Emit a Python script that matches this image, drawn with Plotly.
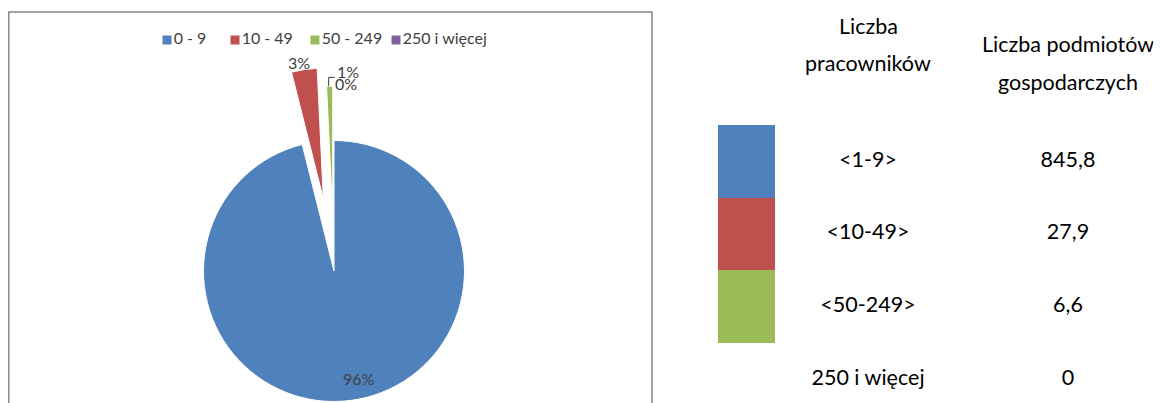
import math
import plotly.graph_objects as go

# ---------------- data ----------------
CATEGORIES = ["0 - 9", "10 - 49", "50 - 249", "250 i więcej"]
VALUES = [845.8, 27.9, 6.6, 0]
TABLE_LABELS = ["<1-9>", "<10-49>", "<50-249>", "250 i więcej"]
TABLE_VALUES = ["845,8", "27,9", "6,6", "0"]
HEADER_COL1 = ["Liczba", "pracowników"]
HEADER_COL2 = ["Liczba podmiotów", "gospodarczych"]

# ---------------- styles / layout (reference pixel units) ----------------
COLORS = ["#4F81BD", "#C0504D", "#9BBB59", "#8064A2"]
PULLS = [0, 0.56, 0.415, 0]
CLEAR = "rgba(0,0,0,0)"
W, H = 1161, 403
OFF = 8                      # page body margin
FW, FH = W - OFF, H - OFF    # figure size
PIE_CX, PIE_CY, PIE_R = 334, 271, 130.5
ROW0_PX, ROW_STEP_PX = 161.4, 72.6
SWATCH_X, SWATCH_W = 746.5, 57
LABEL_X, VALUE_X = 868, 1068
FONT = "Lato, 'Open Sans', sans-serif"
CHART_TXT = "#404040"
TABLE_SIZE = 21.5
LABEL_SIZE = 16
LEGEND_X = [167, 235, 315, 396]
LEGEND_Y = 40
# percent label centres, reference pixels
PCT_POS = [(359, 378), (299, 62), (348, 72), (345.5, 83)]


def px(x):
    return (x - OFF) / FW


def py(y):
    return 1 - (y - OFF) / FH


def pie_domain(cx, cy, r):
    return dict(x=[px(cx - r), px(cx + r)], y=[py(cy + r), py(cy - r)])


def px_to_row(yy):
    return (yy - ROW0_PX) / ROW_STEP_PX


total = sum(VALUES)
pct = [f"{round(v / total * 100)}%" for v in VALUES]

fig = go.Figure()

# each slice drawn as its own pie layer, offset along its bisector (explode)
cum = 0.0
green_top = None
for k, v in enumerate(VALUES):
    mid = (cum + v / 2) / total * 2 * math.pi
    cum += v
    if v <= 0:
        continue
    off = PULLS[k] * PIE_R
    cx = PIE_CX + math.sin(mid) * off
    cy = PIE_CY - math.cos(mid) * off
    cols = [COLORS[i] if i == k else CLEAR for i in range(len(VALUES))]
    lines = ["white" if i == k else CLEAR for i in range(len(VALUES))]
    fig.add_trace(go.Pie(
        labels=CATEGORIES, values=VALUES, sort=False, direction="clockwise",
        marker=dict(colors=cols, line=dict(color=lines, width=1)),
        textinfo="none", domain=pie_domain(cx, cy, PIE_R),
        showlegend=False, hoverinfo="skip",
    ))
    if k == 2:
        green_top = (cx + math.sin(mid) * PIE_R, cy - math.cos(mid) * PIE_R)

annotations = []
for (lx, ly), t in zip(PCT_POS, pct):
    annotations.append(dict(x=px(lx), y=py(ly), xref="paper", yref="paper", text=t,
                            xanchor="center", yanchor="middle", showarrow=False,
                            font=dict(family=FONT, size=LABEL_SIZE, color=CHART_TXT)))

# legend (square swatches + category names)
fig.add_trace(go.Scatter(
    x=LEGEND_X, y=[px_to_row(LEGEND_Y)] * len(CATEGORIES), text=CATEGORIES,
    mode="markers+text", textposition="middle right",
    marker=dict(symbol="square", size=9, color=COLORS, line=dict(width=0)),
    textfont=dict(family=FONT, size=LABEL_SIZE, color=CHART_TXT),
    showlegend=False, hoverinfo="skip", cliponaxis=False,
))

# right-hand table: swatches + texts
rows = list(range(len(TABLE_LABELS)))
sw_rows = [i for i, v in enumerate(VALUES) if v > 0]
fig.add_trace(go.Bar(
    x=[SWATCH_X] * len(sw_rows), y=[1] * len(sw_rows), base=[i - 0.5 for i in sw_rows],
    width=SWATCH_W, marker=dict(color=[COLORS[i] for i in sw_rows], line=dict(width=0)),
    showlegend=False, hoverinfo="skip",
))
for xcol, texts in [(LABEL_X, TABLE_LABELS), (VALUE_X, TABLE_VALUES)]:
    fig.add_trace(go.Scatter(
        x=[xcol] * len(rows), y=rows, text=texts, mode="text",
        textposition="middle center", textfont=dict(family=FONT, size=TABLE_SIZE, color="black"),
        showlegend=False, hoverinfo="skip", cliponaxis=False,
    ))

for xcol, lines_, ys in [(LABEL_X, HEADER_COL1, [26, 63]), (VALUE_X, HEADER_COL2, [44, 82])]:
    for txt, yy in zip(lines_, ys):
        annotations.append(dict(x=xcol, y=px_to_row(yy), xref="x", yref="y", text=txt,
                                showarrow=False, font=dict(family=FONT, size=TABLE_SIZE, color="black"),
                                xanchor="center", yanchor="middle"))

gx, gy = green_top
leader = f"M {px(gx - 1)} {py(gy)} L {px(gx - 1)} {py(gy - 9)} L {px(gx + 5)} {py(gy - 9)}"

fig.update_layout(
    width=FW, height=FH, margin=dict(l=0, r=0, t=0, b=0),
    paper_bgcolor="white", plot_bgcolor="rgba(0,0,0,0)",
    xaxis=dict(range=[OFF, W], domain=[0, 1], visible=False, fixedrange=True),
    yaxis=dict(range=[px_to_row(H), px_to_row(OFF)], domain=[0, 1], visible=False, fixedrange=True),
    showlegend=False,
    annotations=annotations,
    shapes=[
        dict(type="rect", xref="paper", yref="paper", x0=px(8.8), x1=px(652),
             y0=-0.05, y1=py(12), line=dict(color="#878787", width=1.5),
             fillcolor=CLEAR, layer="below"),
        dict(type="path", xref="paper", yref="paper", path=leader,
             line=dict(color=CHART_TXT, width=1)),
    ],
    hovermode=False, bargap=0,
)

fig.write_html("out.html")
